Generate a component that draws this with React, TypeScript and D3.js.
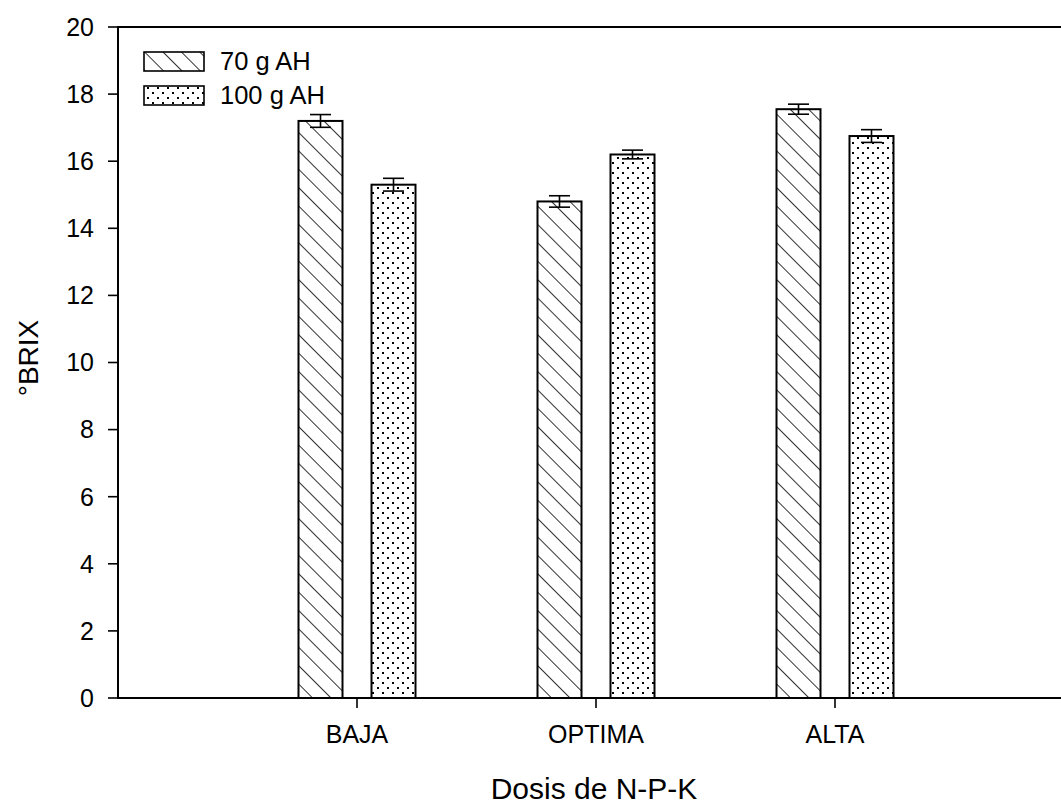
import { scaleLinear } from "d3";

const width = 1061;
const height = 804;

const categories = ["BAJA", "OPTIMA", "ALTA"];
const seriesNames = ["70 g AH", "100 g AH"];
const brix70 = [17.2, 14.8, 17.55];
const err70 = [0.19, 0.17, 0.15];
const brix100 = [15.3, 16.2, 16.75];
const err100 = [0.19, 0.13, 0.19];
const yTicks = [0, 2, 4, 6, 8, 10, 12, 14, 16, 18, 20];

const left = 118;
const top = 27;
const bottom = 698;
const barW = 44;
const gap = 29;
const font = "'Liberation Sans', Arial, sans-serif";

export default function App() {
    const xScale = scaleLinear().domain([0, 4]).range([left, 1074]);
    const yScale = scaleLinear().domain([0, 20]).range([bottom, top]);

    const series = [
        { vals: brix70, errs: err70, fill: "url(#hatch)", dx: -gap / 2 - barW },
        { vals: brix100, errs: err100, fill: "url(#dots)", dx: gap / 2 },
    ];

    return (
        <div style={{ position: "absolute", left: 0, top: 0 }}>
            <svg width={width} height={height} style={{ display: "block", background: "#fff" }}>
                <defs>
                    <pattern id="hatch" patternUnits="userSpaceOnUse" width={13} height={13} patternTransform="rotate(-45)">
                        <rect width={13} height={13} fill="#fff" />
                        <line x1={0} y1={-2} x2={0} y2={15} stroke="#000" strokeWidth={1.6} />
                    </pattern>
                    <pattern id="dots" patternUnits="userSpaceOnUse" width={10} height={10}>
                        <rect width={10} height={10} fill="#fff" />
                        <rect x={2} y={2} width={2} height={2} fill="#000" />
                        <rect x={7} y={7} width={2} height={2} fill="#000" />
                    </pattern>
                </defs>

                {/* frame */}
                <line x1={left} y1={top} x2={width} y2={top} stroke="#000" strokeWidth={2} />
                <line x1={left} y1={bottom} x2={width} y2={bottom} stroke="#000" strokeWidth={2} />
                <line x1={left} y1={top - 1} x2={left} y2={bottom + 1} stroke="#000" strokeWidth={2} />

                {/* y axis */}
                {yTicks.map(t => (
                    <g key={t}>
                        <line x1={left - 10} x2={left} y1={yScale(t)} y2={yScale(t)} stroke="#000" strokeWidth={1.6} />
                        <text x={94} y={yScale(t) + 8.8} textAnchor="end" fontFamily={font} fontSize={25}>{t}</text>
                    </g>
                ))}

                {/* bars */}
                {series.map((s, si) => categories.map((c, i) => {
                    const x = xScale(i + 1) + s.dx;
                    const y = yScale(s.vals[i]);
                    const cx = x + barW / 2;
                    return (
                        <g key={si + c}>
                            <rect x={x} y={y} width={barW} height={bottom - y} fill={s.fill} stroke="#000" strokeWidth={2} />
                            <line x1={cx} x2={cx} y1={yScale(s.vals[i] + s.errs[i])} y2={yScale(s.vals[i] - s.errs[i])} stroke="#000" strokeWidth={1.6} />
                            <line x1={cx - 10.5} x2={cx + 10.5} y1={yScale(s.vals[i] + s.errs[i])} y2={yScale(s.vals[i] + s.errs[i])} stroke="#000" strokeWidth={1.6} />
                            <line x1={cx - 10.5} x2={cx + 10.5} y1={yScale(s.vals[i] - s.errs[i])} y2={yScale(s.vals[i] - s.errs[i])} stroke="#000" strokeWidth={1.6} />
                        </g>
                    );
                }))}

                {/* x axis ticks and labels */}
                {categories.map((c, i) => (
                    <g key={c}>
                        <line x1={xScale(i + 1)} x2={xScale(i + 1)} y1={bottom} y2={bottom + 10} stroke="#000" strokeWidth={1.6} />
                        <text x={xScale(i + 1)} y={743} textAnchor="middle" fontFamily={font} fontSize={25}>{c}</text>
                    </g>
                ))}

                {/* legend */}
                {seriesNames.map((n, i) => (
                    <g key={n}>
                        <rect x={144} y={52 + i * 34} width={60} height={19} fill={i === 0 ? "url(#hatch)" : "url(#dots)"} stroke="#000" strokeWidth={1.6} />
                        <text x={220} y={70 + i * 34} fontFamily={font} fontSize={25.5}>{n}</text>
                    </g>
                ))}

                {/* titles */}
                <text x={594} y={799} textAnchor="middle" fontFamily={font} fontSize={30}>Dosis de N-P-K</text>
                <text transform="translate(38,358) rotate(-90)" textAnchor="middle" fontFamily={font} fontSize={28}>°BRIX</text>
            </svg>
        </div>
    );
}
